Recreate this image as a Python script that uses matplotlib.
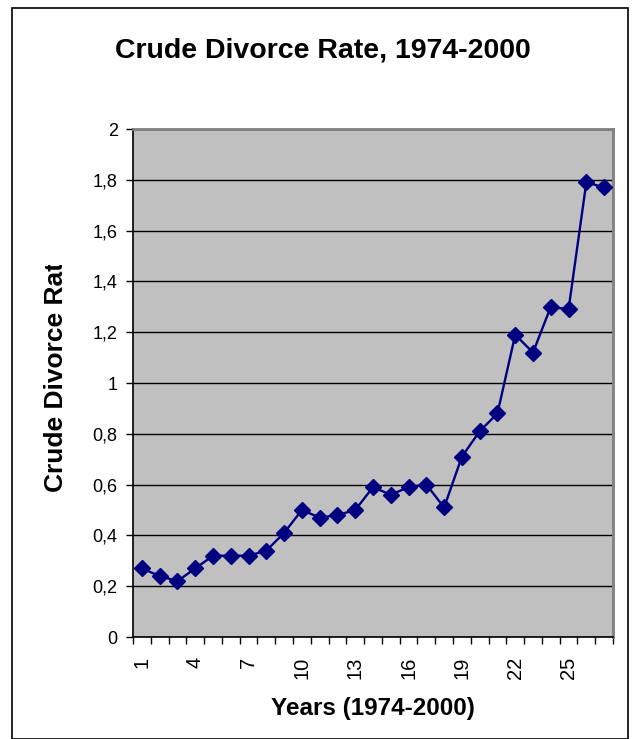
import matplotlib
matplotlib.use("Agg")
import matplotlib.pyplot as plt
from matplotlib.patches import Rectangle
from matplotlib.transforms import Bbox, TransformedBbox
from matplotlib.ticker import FixedLocator

plt.rcParams['font.family'] = ['Liberation Sans', 'DejaVu Sans']

years = list(range(1, 28))
rates = [0.27, 0.24, 0.22, 0.27, 0.32, 0.32, 0.32, 0.34, 0.41, 0.50,
         0.47, 0.48, 0.50, 0.59, 0.56, 0.59, 0.60, 0.51, 0.71, 0.81,
         0.88, 1.19, 1.12, 1.30, 1.29, 1.79, 1.77]
yticks = [0, 0.2, 0.4, 0.6, 0.8, 1.0, 1.2, 1.4, 1.6, 1.8, 2.0]
ytick_labels = ["0", "0,2", "0,4", "0,6", "0,8", "1", "1,2", "1,4", "1,6", "1,8", "2"]
xtick_labels = [str(v) for v in years]

W, H = 638, 739
fig = plt.figure(figsize=(W/100, H/100), dpi=100)
ax = fig.add_axes([133/W, 1-637/H, 480/W, 508/H])
ax.set_facecolor('#C0C0C0')

ax.plot(years, rates, color='#000080', lw=1.7, marker='D', markersize=8.5,
        markerfacecolor='#000080', markeredgecolor='#000080', zorder=3)

ax.set_xlim(0.5, 27.5)
ax.set_ylim(0, 2)
ax.set_yticks(yticks)
ax.set_yticklabels(ytick_labels, fontsize=13)
ax.yaxis.grid(True, color='black', lw=1)
ax.set_axisbelow(True)

# category axis: ticks between categories, labels every 3rd
ax.xaxis.set_major_locator(FixedLocator([y for y in years if (y - 1) % 3 == 0]))
ax.set_xticklabels([xtick_labels[i] for i in range(0, 27, 3)], rotation=90, fontsize=14.5)
ax.xaxis.set_minor_locator(FixedLocator([v + 0.5 for v in range(0, 28)]))
ax.tick_params(axis='x', which='major', length=0, pad=14)
ax.tick_params(axis='x', which='minor', length=5, width=1, color='black', direction='out')
ax.tick_params(axis='y', length=5, width=1, color='black', pad=6)

for s in ['left', 'bottom']:
    ax.spines[s].set_color('black')
    ax.spines[s].set_linewidth(1.2)
for s in ['top', 'right']:
    ax.spines[s].set_color('#808080')
    ax.spines[s].set_linewidth(2)

fig.text(373/W, 1-715/H, "Years (1974-2000)", fontsize=17.5, fontweight='bold',
         ha='center', va='baseline')

fig.text(323/W, 1-57/H, "Crude Divorce Rate, 1974-2000", fontsize=20.5, fontweight='bold',
         ha='center', va='baseline')

yl = fig.text(63/W, 1-492/H, "Crude Divorce Rate", fontsize=19, fontweight='bold',
              rotation=90, rotation_mode='anchor', ha='left', va='baseline')
yl.set_clip_box(TransformedBbox(Bbox([[0, 0], [1, 1 - 265/H]]), fig.transFigure))
yl.set_clip_on(True)

frame = Rectangle((12/W, 0.5/H), 616/W, 1 - 8/H - 0.5/H, transform=fig.transFigure,
                  fill=False, edgecolor='black', lw=1.2)
fig.add_artist(frame)

fig.savefig("out.png", dpi=100)
